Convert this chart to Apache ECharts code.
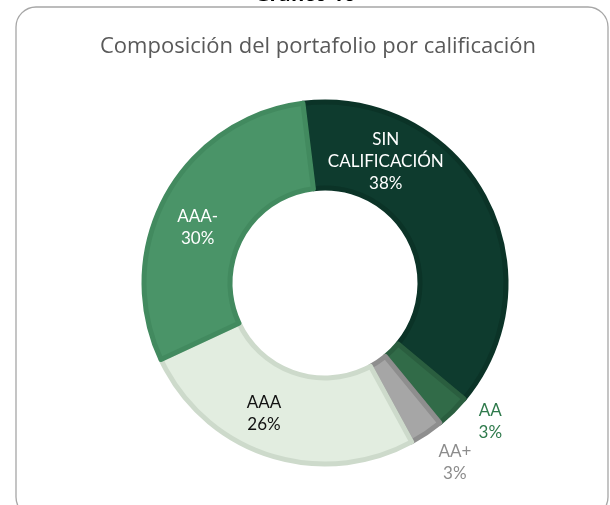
<!DOCTYPE html>
<html>
<head>
<meta charset="utf-8">
<script src="https://cdn.jsdelivr.net/npm/echarts@6/dist/echarts.min.js"></script>
<style>
  html, body { margin: 0; padding: 0; background: #fff; }
  #chart { width: 610px; height: 505px; }
</style>
</head>
<body>
<div id="chart"></div>
<script>
// data
const categories = ['SIN\nCALIFICACIÓN', 'AA', 'AA+', 'AAA', 'AAA-']
const shares = [38, 3, 3, 26, 30]

// look of each slice
const fillColors = ['#0e3b2e', '#316b48', '#a6a6a6', '#e2ede0', '#4a9468']
const edgeColors = ['#0b3327', '#2a5e3f', '#8e8e8e', '#cddacb', '#428a5f']
const labelColors = ['#ffffff', '#2f7a4c', '#8c8c8c', '#111111', '#ffffff']
// nudges from the default inside position
const labelShift = [[-63, -54], [66, 38], [51, 63], [-17, -3], [-4, 13]]

const chart = echarts.init(document.getElementById('chart'))

const option = {
    animation: false,
    graphic: [
        {
            type: 'rect',
            shape: { x: 16, y: 7, width: 592, height: 510, r: 20 },
            style: { fill: '#fff', stroke: '#a6a6a6', lineWidth: 1.3 },
            z: -10
        },
        {
            type: 'text',
            x: 305, y: 5,
            style: {
                text: 'Gráfico 16',
                font: 'bold 20px "Open Sans"',
                fill: '#000',
                textAlign: 'center',
                textVerticalAlign: 'bottom'
            }
        }
    ],
    title: {
        text: 'Composición del portafolio por calificación',
        left: 95,
        top: 31,
        textStyle: {
            color: '#595959',
            fontFamily: 'Open Sans',
            fontWeight: 'normal',
            fontSize: 22
        }
    },
    series: [
        {
            type: 'pie',
            center: [325, 283],
            radius: [95, 181],
            startAngle: 97,
            clockwise: true,
            silent: true,
            emphasis: { disabled: true },
            labelLine: { show: false },
            label: {
                show: true,
                position: 'inside',
                fontFamily: 'Lato',
                fontSize: 17,
                lineHeight: 22,
                align: 'center',
                formatter: p => p.name + '\n' + p.value + '%'
            },
            labelLayout: p => ({ dx: labelShift[p.dataIndex][0], dy: labelShift[p.dataIndex][1] }),
            data: categories.map((name, i) => ({
                name: name,
                value: shares[i],
                itemStyle: { color: fillColors[i], borderColor: edgeColors[i], borderWidth: 5 },
                label: { color: labelColors[i] }
            }))
        }
    ]
}

chart.setOption(option, true)
</script>
</body>
</html>
